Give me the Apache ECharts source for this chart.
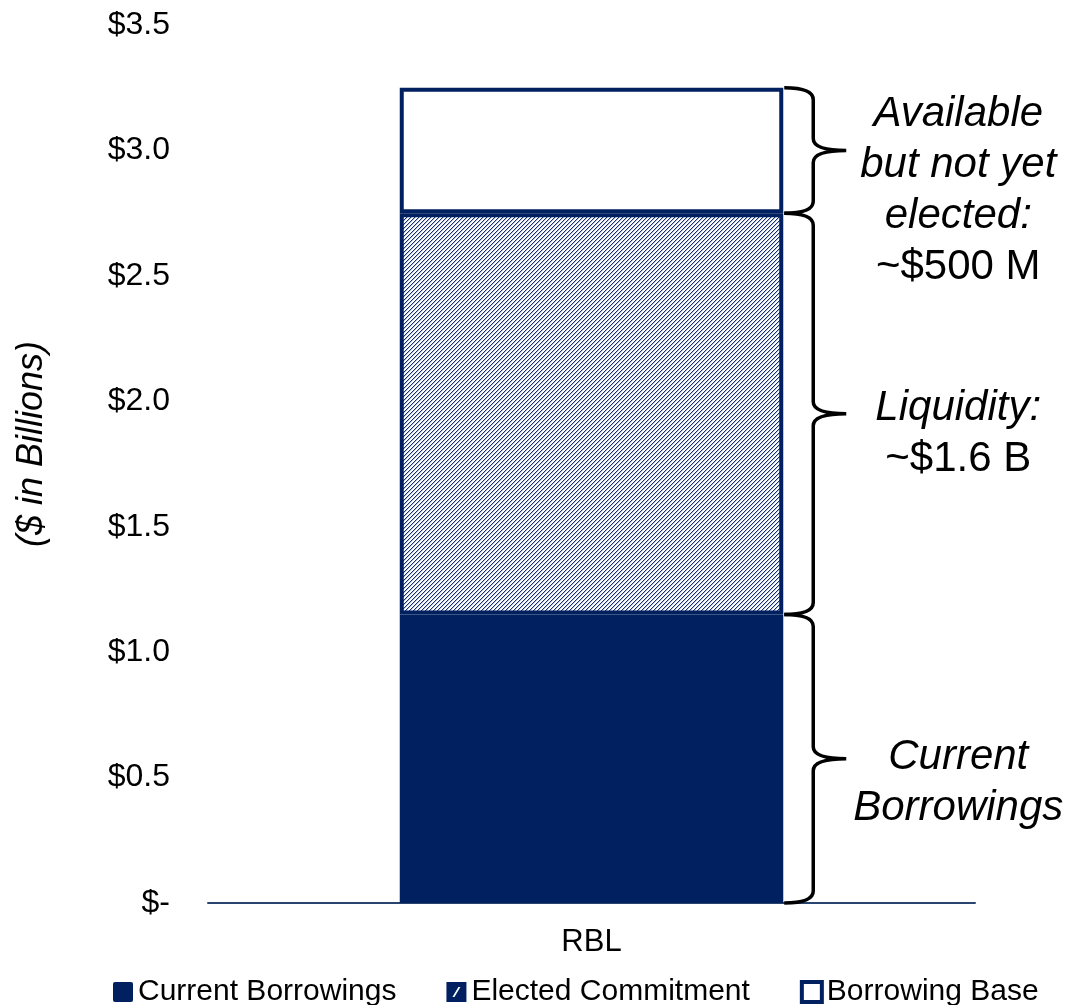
<!DOCTYPE html>
<html>
<head>
<meta charset="utf-8">
<script src="https://cdn.jsdelivr.net/npm/echarts@6/dist/echarts.min.js"></script>
<style>
  html, body { margin: 0; padding: 0; background: #fff; }
  #chart { width: 1067px; height: 1005px; }
</style>
</head>
<body>
<div id="chart"></div>
<script>
// RBL facility - stacked bar with brace notes
const categories = ['RBL'];
const seriesNames = ['Current Borrowings', 'Elected Commitment', 'Borrowing Base'];
const currentBorrowings = [1.15];
const electedCommitment = [1.6];
const borrowingBase = [0.5];
const yMin = 0;
const yMax = 3.5;
const yStep = 0.5;
const braceNotes = [
  ['{i|Current}', '{i|Borrowings}'],
  ['{i|Liquidity:}', '{n|~$1.6 B}'],
  ['{i|Available}', '{i|but not yet}', '{i|elected:}', '{n|~$500 M}']
];

const NAVY = '#002060';
const FONT = '"Liberation Sans", Arial, sans-serif';

// small diagonal hatch tile
function hatchTile() {
  const c = document.createElement('canvas');
  c.width = 4;
  c.height = 4;
  const g = c.getContext('2d');
  g.fillStyle = '#ffffff';
  g.fillRect(0, 0, 4, 4);
  g.fillStyle = '#b8c2d8';
  for (let i = 0; i < 4; i++) g.fillRect((4 - i) % 4, i, 1, 1);
  g.fillStyle = '#15306a';
  for (let i = 0; i < 4; i++) g.fillRect(3 - i, i, 1, 1);
  return c;
}

// brace ranges from the stacked values
const stackParts = [currentBorrowings, electedCommitment, borrowingBase];
const braceData = [];
let acc = 0;
stackParts.forEach((arr, k) => {
  braceData.push([0, acc, acc + arr[0], k]);
  acc += arr[0];
});

const noteDy = [-27, -31, -62];

const chart = echarts.init(document.getElementById('chart'));

const option = {
  animation: false,
  textStyle: { fontFamily: FONT },
  grid: { left: 208, right: 92, top: 25, bottom: 102 },
  legend: {
    data: [
      { name: seriesNames[0], icon: 'path://M2,0 L18,0 Q20,0 20,2 L20,18 Q20,20 18,20 L2,20 Q0,20 0,18 L0,2 Q0,0 2,0 Z' },
      {
        name: seriesNames[1],
        icon: 'path://M0,0 L20,0 L20,20 L0,20 Z M6,15 L8,15 L14,5 L12,5 Z',
        itemStyle: { color: NAVY, borderWidth: 0 }
      },
      { name: seriesNames[2], icon: 'rect', itemStyle: { color: '#ffffff', borderColor: NAVY, borderWidth: 4 } }
    ],
    left: 108,
    top: 972,
    itemWidth: 20,
    itemHeight: 20,
    itemGap: 50,
    textStyle: { fontSize: 30, color: '#000', fontFamily: FONT }
  },
  xAxis: {
    type: 'category',
    data: categories,
    axisLine: { lineStyle: { color: '#2A4470', width: 2 } },
    axisTick: { show: false },
    axisLabel: { fontSize: 31, color: '#000', margin: 24, fontFamily: FONT }
  },
  yAxis: {
    type: 'value',
    min: yMin,
    max: yMax,
    interval: yStep,
    name: '($ in Billions)',
    nameLocation: 'middle',
    nameRotate: 90,
    nameGap: 158,
    nameTextStyle: {
      fontSize: 36,
      fontStyle: 'italic',
      color: '#000',
      fontFamily: FONT,
      padding: [0, 0, 0, 40]
    },
    axisLine: { show: false },
    axisTick: { show: false },
    splitLine: { show: false },
    axisLabel: {
      fontSize: 32,
      color: '#000',
      margin: 38,
      fontFamily: FONT,
      formatter: v => (v === 0 ? '$-' : '$' + v.toFixed(1))
    }
  },
  series: [
    {
      name: seriesNames[0],
      type: 'bar',
      stack: 'rbl',
      barWidth: '50%',
      itemStyle: { color: NAVY },
      data: currentBorrowings
    },
    {
      name: seriesNames[1],
      type: 'bar',
      stack: 'rbl',
      barWidth: '50%',
      itemStyle: {
        color: { image: hatchTile(), repeat: 'repeat' },
        borderColor: NAVY,
        borderWidth: 4
      },
      data: electedCommitment
    },
    {
      name: seriesNames[2],
      type: 'bar',
      stack: 'rbl',
      barWidth: '50%',
      itemStyle: { color: '#ffffff', borderColor: NAVY, borderWidth: 4 },
      data: borrowingBase
    },
    {
      type: 'custom',
      z: 5,
      silent: true,
      data: braceData,
      renderItem: function (params, api) {
        const k = api.value(3);
        const top = api.coord([api.value(0), api.value(2)]);
        const bot = api.coord([api.value(0), api.value(1)]);
        const half = api.size([1, 0])[0] * 0.25;
        const x0 = top[0] + half + 1;
        const xv = x0 + 29;
        const xt = x0 + 62;
        const yT = top[1];
        const yB = bot[1];
        const yM = (yT + yB) / 2;
        const r = 12;
        const d =
          'M' + x0 + ',' + yT +
          ' Q' + xv + ',' + yT + ' ' + xv + ',' + (yT + r) +
          ' L' + xv + ',' + (yM - r) +
          ' Q' + xv + ',' + yM + ' ' + xt + ',' + yM +
          ' Q' + xv + ',' + yM + ' ' + xv + ',' + (yM + r) +
          ' L' + xv + ',' + (yB - r) +
          ' Q' + xv + ',' + yB + ' ' + x0 + ',' + yB;
        return {
          type: 'group',
          children: [
            {
              type: 'path',
              shape: { pathData: d },
              style: { fill: 'none', stroke: '#000', lineWidth: 3.5 }
            },
            {
              type: 'text',
              x: xt + 112,
              y: yM + noteDy[k],
              style: {
                text: braceNotes[k].join('\n'),
                align: 'center',
                verticalAlign: 'top',
                fill: '#000',
                rich: {
                  i: { fontSize: 42, fontStyle: 'italic', lineHeight: 51, fontFamily: FONT, fill: '#000', align: 'center' },
                  n: { fontSize: 42, lineHeight: 51, fontFamily: FONT, fill: '#000', align: 'center' }
                }
              }
            }
          ]
        };
      }
    }
  ]
};

chart.setOption(option);
</script>
</body>
</html>
